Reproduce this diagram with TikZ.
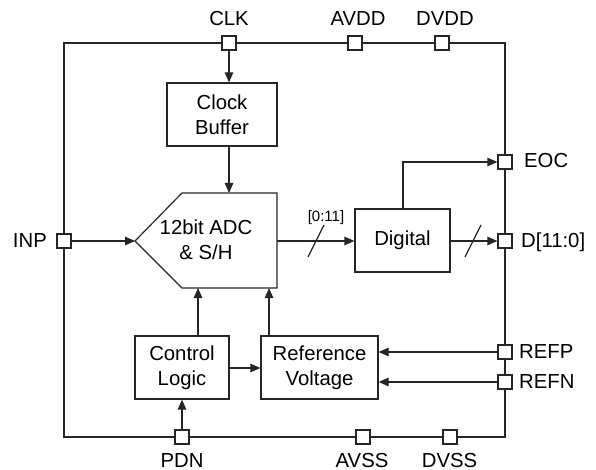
\documentclass[tikz,border=0pt]{standalone}
\usepackage{fontspec}
\setmainfont{Liberation Sans}
\usetikzlibrary{arrows.meta,calc}
\begin{document}
\begin{tikzpicture}[x=1pt,y=-1pt,
  every node/.style={font=\fontsize{20.3}{25}\selectfont},
  line/.style={line width=1.2pt,draw=black!85},
  arr/.style={line, -{Triangle[length=10pt,width=8.5pt]}},
  pinbox/.style={draw=black!85,line width=1.2pt,fill=white,minimum size=14pt,inner sep=0pt},
  blk/.style={draw=black!85,line width=1.2pt,align=center,inner sep=0pt},
  lbl/.style={inner sep=0pt},
  small/.style={inner sep=0pt,font=\fontsize{15}{18}\selectfont}]
\useasboundingbox (0,0) rectangle (596,470);
% frame
\draw[line] (64,43) rectangle (505,437);
% blocks
\node[blk,minimum width=110pt,minimum height=63pt] (cb) at (222,114.5) {Clock\\Buffer};
\node[blk,minimum width=95pt,minimum height=63pt] (dig) at (402.5,240.5) {Digital};
\node[blk,minimum width=94pt,minimum height=63pt] (cl) at (182,367.5) {Control\\Logic};
\node[blk,minimum width=117pt,minimum height=63pt] (rv) at (319.5,367.5) {Reference\\Voltage};
% ADC pentagon
\coordinate (adctip) at (135,241);
\coordinate (adctl) at (182,193);
\coordinate (adctr) at (277,193);
\coordinate (adcbr) at (277,288);
\coordinate (adcbl) at (182,288);
\draw[line,line join=miter] (adctip) -- (adctl) -- (adctr) -- (adcbr) -- (adcbl) -- cycle;
\node[align=center,inner sep=0pt] (adc) at (206,240) {12bit ADC\\\& S/H};
\coordinate (adcout) at (277,241);
% pins
\node[pinbox] (clk) at (229,43) {};
\node[pinbox] (avdd) at (355,43) {};
\node[pinbox] (dvdd) at (442,43) {};
\node[pinbox] (pdn) at (182,437) {};
\node[pinbox] (avss) at (363,437) {};
\node[pinbox] (dvss) at (450,437) {};
\node[pinbox] (inp) at (64,241) {};
\node[pinbox] (eoc) at (505,162) {};
\node[pinbox] (dout) at (505,241) {};
\node[pinbox] (refp) at (505,352) {};
\node[pinbox] (refn) at (505,382) {};
% pin labels
\node[lbl,anchor=base] (tclk) at (229,26) {CLK};
\node[lbl,anchor=base] (tavdd) at (358,26) {AVDD};
\node[lbl,anchor=base] (tdvdd) at (445,26) {DVDD};
\node[lbl,anchor=base] (tpdn) at (182,467) {PDN};
\node[lbl,anchor=base] (tavss) at (362,467) {AVSS};
\node[lbl,anchor=base] (tdvss) at (449.5,467) {DVSS};
\node[lbl,anchor=base east] (tinp) at (47,247) {INP};
\node[lbl,anchor=base west] (teoc) at (524,168) {EOC};
\node[lbl,anchor=base west] (tdout) at (521,247) {D[11:0]};
\node[lbl,anchor=base west] (trefp) at (519,358) {REFP};
\node[lbl,anchor=base west] (trefn) at (519,388) {REFN};
% connectors
\draw[arr] (clk.south) -- (clk.south |- cb.north);
\draw[arr] (clk.south |- cb.south) -- (clk.south |- adctl);
\draw[arr] (inp.east) -- (adctip);
\draw[arr] (adcout) -- (dig.west |- adcout);
\draw[arr] (dig.north -| 403,0) |- (eoc.west);
\draw[arr] (dig.east |- dout) -- (dout.west);
\draw[arr] (cl.north -| 198,0) -- (198,288);
\draw[arr] (rv.north -| 269,0) -- (269,288);
\draw[arr] (cl.east |- 0,368) -- (rv.west |- 0,368);
\draw[arr] (refp.west) -- (rv.east |- refp);
\draw[arr] (refn.west) -- (rv.east |- refn);
\draw[arr] (pdn.north) -- (cl.south);
% bus slashes
\draw[line] (308,257) -- (324,225);
\draw[line] (465,257) -- (481,225);
\node[small,anchor=base] (bus) at (326,222) {[0:11]};
\end{tikzpicture}
\end{document}
